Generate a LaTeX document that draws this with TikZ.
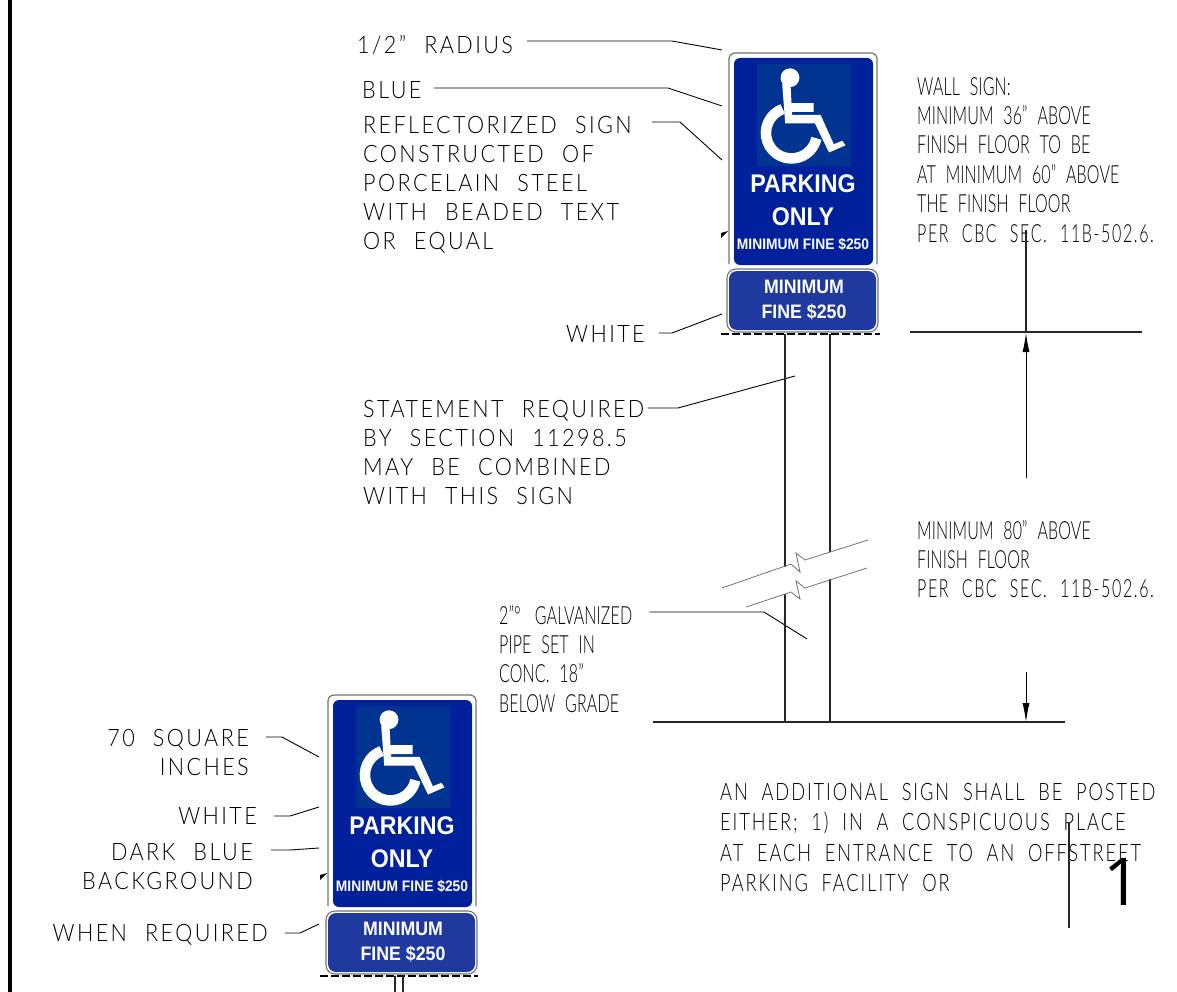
\documentclass[tikz,border=0pt]{standalone}
\usepackage{fontspec}
\usepackage{xcolor}
\setmainfont{Liberation Sans}
\newfontfamily\cadwide[FakeStretch=0.9,LetterSpace=10,WordSpace=2.2]{Lato Light}
\newfontfamily\cadthin[FakeStretch=0.64,LetterSpace=0.5,WordSpace=2.2]{Lato Light}
\newfontfamily\cadlong[FakeStretch=0.76,LetterSpace=8,WordSpace=2]{Lato Light}
\newfontfamily\signfont[FakeStretch=0.91]{Liberation Sans}
\newfontfamily\sheetfont{Open Sans}
\usetikzlibrary{arrows.meta, positioning}
\definecolor{signblue}{HTML}{00209C}
\definecolor{symblue}{HTML}{003490}
\definecolor{plateblue}{HTML}{1F399E}
\newcommand{\lastline}[1]{{\addfontfeature{LetterSpace=6.5}#1}}
\tikzset{
  widenote/.style={font=\cadwide\fontsize{24}{29}\selectfont, align=left, inner sep=0pt, anchor=north west},
  thinnote/.style={font=\cadthin\fontsize{25}{29.4}\selectfont, align=left, inner sep=0pt, anchor=north west},
  longnote/.style={font=\cadlong\fontsize{24}{30.4}\selectfont, align=left, inner sep=0pt, anchor=north west},
  leader/.style={line width=0.9pt, black},
  pipeline/.style={line width=1.1pt, black!85},
  breakline/.style={black!55, line width=0.8pt},
  dashline/.style={line width=1.1pt, black, dash pattern=on 8pt off 3pt},
  signtext/.style={text=white, inner sep=0pt},
  bigtext/.style={signtext, font=\signfont\bfseries\fontsize{25.5}{26}\selectfont},
  smalltext/.style={signtext, font=\signfont\bfseries\fontsize{15.2}{15}\selectfont},
  platetext/.style={signtext, font=\signfont\bfseries\fontsize{19.5}{20}\selectfont},
  dim/.style={line width=0.9pt, -{Latex[length=19pt,width=7pt]}}
}
\begin{document}
\begin{tikzpicture}[x=1pt,y=-1pt]
\useasboundingbox (0,0) rectangle (1177,992);
\fill[black] (8,0) rectangle (12,992);

% the two signs
\foreach \sx/\sy/\sn in {0/0/a, -401/642/b} {
\begin{scope}[shift={(\sx,\sy)}]
\draw[black!55, line width=1.2pt] (729,264) -- (729,59) arc[start angle=180, end angle=270, radius=6] -- (871,53) arc[start angle=270, end angle=360, radius=6] -- (877,264);
\fill[signblue, rounded corners=6pt] (734,58) rectangle (873,265);
\fill[symblue] (757,64) rectangle (851,166);
% wheelchair
\fill[white] (790,77.7) circle (9.4);
\draw[white, line width=10.5pt] (782.7,109) arc[start angle=250, end angle=12, radius=25.5];
\fill[white] (782.2,83.7) -- (785.2,123.5) -- (815,123.5) -- (829,152.5) -- (845.5,145.3) -- (842.3,140.8) -- (833.8,144.2) -- (820.5,114.8) -- (792.2,114.8) -- (792.2,112) -- (813.5,112) -- (813.5,103.2) -- (791.5,103.2) -- (790.5,83.7) -- cycle;
\node[bigtext] (park\sn) at (803,184) {PARKING};
\node[bigtext] (only\sn) at (803,217) {ONLY};
\node[smalltext] (fine\sn) at (803,244) {MINIMUM FINE \$250};
\fill[black] (721,238) -- (721,233) -- (728,231) -- cycle;
\draw[black!55, fill=white, line width=1.1pt, rounded corners=9pt] (727,269) rectangle (878,332);
\fill[plateblue, rounded corners=8pt] (729,271) rectangle (876,330);
\node[platetext] (mini\sn) at (804,287) {MINIMUM};
\node[platetext] (plate\sn) at (804,312) {FINE \$250};
\end{scope}
}
\draw[dashline] (721,334) -- (880,334);
\draw[dashline] (320,976) -- (478,976);
\draw[pipeline] (395,976) -- (395,992);
\draw[pipeline] (403,976) -- (403,992);

% notes upper sign
\node[widenote] (radius) at (357,35) {1/2” RADIUS};
\node[widenote] (blue) at (362,81) {BLUE};
\node[widenote] (reflect) at (363,116) {REFLECTORIZED SIGN\\CONSTRUCTED OF\\PORCELAIN STEEL\\WITH BEADED TEXT\\OR EQUAL};
\node[widenote] (white) at (566,325) {WHITE};
\node[widenote] (statement) at (363,400) {STATEMENT REQUIRED\\BY SECTION 11298.5\\MAY BE COMBINED\\WITH THIS SIGN};
\node[thinnote] (pipe) at (499,605) {2”°\, GALVANIZED\\PIPE SET IN\\CONC. 18”\\BELOW GRADE};
\node[thinnote] (wall) at (917,77) {WALL SIGN:\\MINIMUM 36” ABOVE\\FINISH FLOOR TO BE\\AT MINIMUM 60” ABOVE\\THE FINISH FLOOR\\\lastline{PER CBC SEC. 11B-502.6.}};
\node[thinnote] (eighty) at (917,520) {MINIMUM 80” ABOVE\\FINISH FLOOR\\\lastline{PER CBC SEC. 11B-502.6.}};
\node[longnote] (extra) at (720,783) {AN ADDITIONAL SIGN SHALL BE POSTED\\EITHER; 1) IN A CONSPICUOUS PLACE\\AT EACH ENTRANCE TO AN OFFSTREET\\PARKING FACILITY OR};

% notes lower sign
\node[widenote, align=right, anchor=north east] (square) at (249,729) {70 SQUARE\\INCHES};
\node[widenote, anchor=north east] (whiteb) at (257,807) {WHITE};
\node[widenote, align=right, anchor=north east] (dark) at (253,843) {DARK BLUE\\BACKGROUND};
\node[widenote, anchor=north east] (required) at (268,924) {WHEN REQUIRED};

% leaders
\coordinate (radiusbend) at (672,41);
\coordinate (radiusend) at (722,50);
\coordinate (bluebend) at (668,88);
\coordinate (blueend) at (722,106);
\coordinate (reflectbend) at (680,122);
\coordinate (reflectend) at (722,160);
\coordinate (whitebend) at (672,333);
\coordinate (whiteend) at (722,314);
\coordinate (statementbend) at (678,408);
\coordinate (statementend) at (795,376);
\coordinate (pipebend) at (764,612);
\coordinate (pipeend) at (807,639);
\coordinate (squarebend) at (282,737);
\coordinate (squareend) at (319,757);
\coordinate (whitebbend) at (290,816);
\coordinate (whitebend2) at (319,807);
\coordinate (darkbend) at (290,850);
\coordinate (darkend) at (319,848);
\coordinate (requiredbend) at (300,933);
\coordinate (requiredend) at (319,924);
\draw[leader] ([xshift=14pt]radius.east |- radiusbend) -- (radiusbend) -- (radiusend);
\draw[leader] ([xshift=12pt]blue.east |- bluebend) -- (bluebend) -- (blueend);
\draw[leader] ([xshift=20pt]reflect.east |- reflectbend) -- (reflectbend) -- (reflectend);
\draw[leader] ([xshift=14pt]white.east |- whitebend) -- (whitebend) -- (whiteend);
\draw[leader] ([xshift=3pt]statement.east |- statementbend) -- (statementbend) -- (statementend);
\draw[leader] ([xshift=17pt]pipe.east |- pipebend) -- (pipebend) -- (pipeend);
\draw[leader] ([xshift=17pt]square.east |- squarebend) -- (squarebend) -- (squareend);
\draw[leader] ([xshift=17pt]whiteb.east |- whitebbend) -- (whitebbend) -- (whitebend2);
\draw[leader] ([xshift=18pt]dark.east |- darkbend) -- (darkbend) -- (darkend);
\draw[leader] ([xshift=17pt]required.east |- requiredbend) -- (requiredbend) -- (requiredend);

% pipe with break
\draw[pipeline] (785,334) -- (785,567);
\draw[pipeline] (785,594) -- (785,722);
\draw[pipeline] (830,334) -- (830,552);
\draw[pipeline] (830,579) -- (830,722);
\draw[breakline] (722,588) -- (791,564) -- (800,572) -- (796,553) -- (805,560) -- (868,540);
\draw[breakline] (746,607) -- (791,592) -- (800,599) -- (796,581) -- (805,588) -- (867,568);

% floor lines and dimension
\draw[pipeline] (653,722) -- (1065,722);
\draw[pipeline] (910,332) -- (1142,332);
\draw[pipeline] (1026,230) -- (1026,332);
\coordinate (dimlow) at (1026,478);
\coordinate (dimup) at (1026,333);
\coordinate (dimtop) at (1026,672);
\coordinate (dimfloor) at (1026,722);
\draw[dim] (dimlow) -- (dimup);
\draw[dim] (dimtop) -- (dimfloor);

% sheet mark
\draw[pipeline] (1069,822) -- (1069,928);
\node[inner sep=0pt, font=\sheetfont\fontsize{66}{66}\selectfont] (sheet) at (1122,882) {1};
\end{tikzpicture}
\end{document}
